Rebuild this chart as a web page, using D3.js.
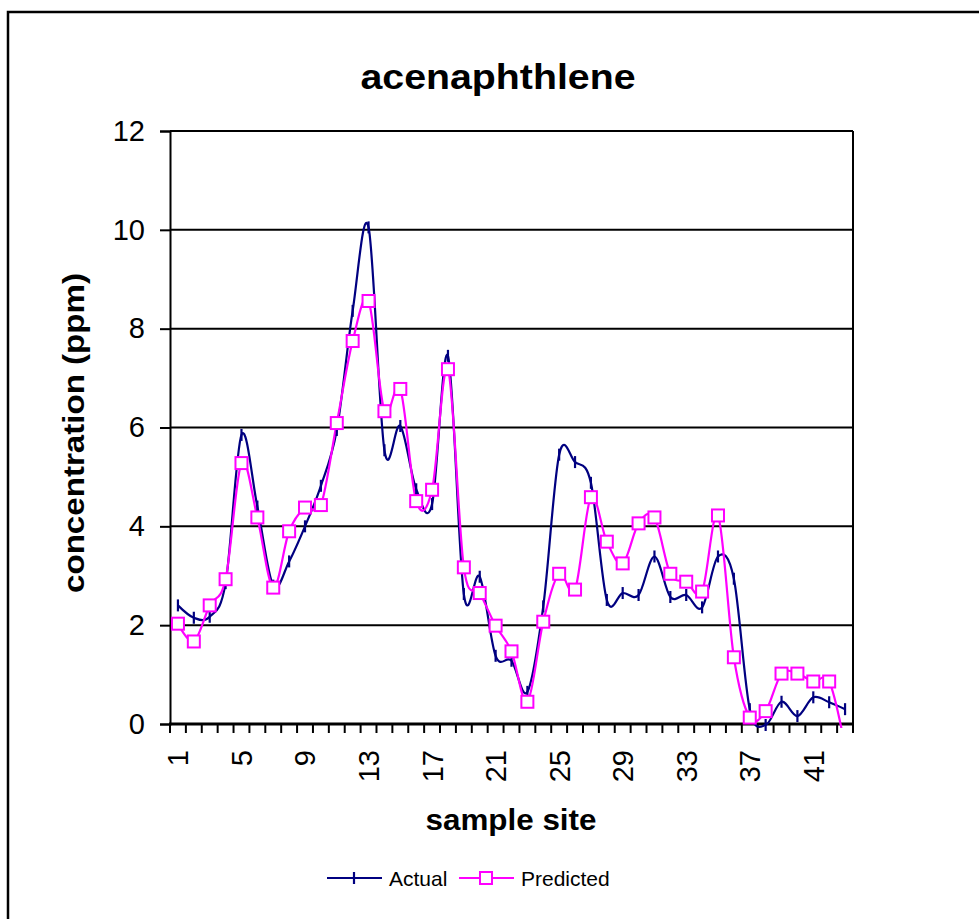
<!DOCTYPE html>
<html>
<head>
<meta charset="utf-8">
<script src="https://cdn.jsdelivr.net/npm/d3@7"></script>
<style>
  html, body { margin: 0; padding: 0; background: #fff; }
  svg { display: block; font-family: Arial, "Liberation Sans", sans-serif; }
</style>
</head>
<body>
<svg id="chart" width="979" height="919"></svg>
<script>
const sites = [1,2,3,4,5,6,7,8,9,10,11,12,13,14,15,16,17,18,19,20,21,22,23,24,25,26,27,28,29,30,31,32,33,34,35,36,37,38,39,40,41,42,43];
const tickSites = [1,5,9,13,17,21,25,29,33,37,41];
const yTicks = [0,2,4,6,8,10,12];
const actual = [2.40,2.15,2.17,2.85,5.85,4.40,2.80,3.29,4.00,4.82,5.95,8.36,10.05,5.54,6.03,4.75,4.45,7.45,2.63,2.98,1.38,1.28,0.65,2.38,5.45,5.30,4.88,2.51,2.65,2.61,3.39,2.57,2.61,2.36,3.39,2.94,0.30,-0.02,0.45,0.16,0.54,0.44,0.30];
const predicted = [2.03,1.67,2.40,2.93,5.28,4.18,2.76,3.90,4.38,4.43,6.09,7.75,8.56,6.33,6.78,4.51,4.74,7.18,3.17,2.65,1.99,1.47,0.45,2.07,3.04,2.72,4.59,3.69,3.25,4.06,4.18,3.04,2.88,2.68,4.22,1.35,0.13,0.26,1.02,1.02,0.86,0.86,-0.45];
const seriesNames = ["Actual","Predicted"];
const titleText = "acenaphthlene";
const xTitle = "sample site";
const yTitle = "concentration (ppm)";

const svg = d3.select("#chart");
const pL = 170, pR = 853, pT = 131, pB = 724;

// outer frame
svg.append("rect").attr("x",8).attr("y",12).attr("width",1000).attr("height",1000)
  .attr("fill","none").attr("stroke","#000").attr("stroke-width",2.5);

const x = d3.scaleBand().domain(sites).range([pL,pR]).padding(0);
const y = d3.scaleLinear().domain([0,12]).range([pB,pT]);
const cx = d => x(d) + x.bandwidth()/2;

// gridlines
svg.append("g").selectAll("line").data(yTicks.filter(v=>v>0)).join("line")
  .attr("x1",pL).attr("x2",pR).attr("y1",d=>y(d)).attr("y2",d=>y(d))
  .attr("stroke","#000").attr("stroke-width",2);
// right border of plot
svg.append("line").attr("x1",pR).attr("x2",pR).attr("y1",pT).attr("y2",pB)
  .attr("stroke","#000").attr("stroke-width",2);

// y axis
const yAxis = d3.axisLeft(y).tickValues(yTicks).tickSize(10).tickPadding(15).tickFormat(d3.format("d"));
const gy = svg.append("g").attr("transform",`translate(${pL},0)`).call(yAxis);
gy.select(".domain").attr("stroke-width",2);
gy.selectAll(".tick line").attr("stroke-width",2);
gy.selectAll("text").attr("font-size",29).attr("fill","#000").attr("font-family","Arial, 'Liberation Sans', sans-serif");

// x axis: ticks at category boundaries
const gx = svg.append("g");
gx.selectAll("line.tk").data(d3.range(sites.length+1)).join("line").attr("class","tk")
  .attr("x1",i=>pL + i*x.bandwidth()).attr("x2",i=>pL + i*x.bandwidth())
  .attr("y1",pB).attr("y2",pB+9).attr("stroke","#000").attr("stroke-width",2);
gx.append("line").attr("x1",pL-1).attr("x2",pR+1).attr("y1",pB).attr("y2",pB)
  .attr("stroke","#000").attr("stroke-width",3);
gx.selectAll("text").data(tickSites).join("text")
  .attr("transform",d=>`translate(${cx(d)},750) rotate(-90)`)
  .attr("text-anchor","end").attr("dy","0.36em")
  .attr("font-size",29).attr("fill","#000").text(d=>d);

// clip
svg.append("clipPath").attr("id","clip").append("rect")
  .attr("x",pL).attr("y",pT-20).attr("width",pR-pL).attr("height",pB-pT+24);

const line = d3.line().x((d,i)=>cx(sites[i])).y(d=>y(d)).curve(d3.curveCardinal.tension(0));

const plot = svg.append("g").attr("clip-path","url(#clip)");
plot.append("path").datum(actual).attr("d",line).attr("fill","none")
  .attr("stroke","#000080").attr("stroke-width",2.2);
plot.append("path").datum(predicted).attr("d",line).attr("fill","none")
  .attr("stroke","#FF00FF").attr("stroke-width",2.2);

// actual markers: short vertical bars
svg.append("g").selectAll("line").data(actual).join("line")
  .attr("x1",(d,i)=>cx(sites[i])).attr("x2",(d,i)=>cx(sites[i]))
  .attr("y1",d=>y(d)-6).attr("y2",d=>y(d)+6)
  .attr("stroke","#000080").attr("stroke-width",2.2);

// predicted markers: squares (only within range)
svg.append("g").selectAll("rect").data(predicted.map((v,i)=>({v,i})).filter(d=>d.v>=0)).join("rect")
  .attr("x",d=>cx(sites[d.i])-6).attr("y",d=>y(d.v)-6).attr("width",12).attr("height",12)
  .attr("fill","#fff").attr("stroke","#FF00FF").attr("stroke-width",2);

// titles
svg.append("text").attr("x",498).attr("y",89).attr("text-anchor","middle")
  .attr("font-size",35).attr("font-weight","bold").attr("textLength",275).attr("lengthAdjust","spacingAndGlyphs")
  .text(titleText);
svg.append("text").attr("x",511).attr("y",830).attr("text-anchor","middle")
  .attr("font-size",29).attr("font-weight","bold").attr("textLength",171).attr("lengthAdjust","spacingAndGlyphs")
  .text(xTitle);
svg.append("text").attr("transform","translate(84,433) rotate(-90)").attr("text-anchor","middle")
  .attr("font-size",29).attr("font-weight","bold").attr("textLength",320).attr("lengthAdjust","spacingAndGlyphs")
  .text(yTitle);

// legend
const lg = svg.append("g");
const ly = 878;
lg.append("line").attr("x1",327).attr("x2",382).attr("y1",ly).attr("y2",ly).attr("stroke","#000080").attr("stroke-width",2.2);
lg.append("line").attr("x1",354).attr("x2",354).attr("y1",ly-6).attr("y2",ly+6).attr("stroke","#000080").attr("stroke-width",2.2);
lg.append("text").attr("x",389).attr("y",886).attr("font-size",21).text(seriesNames[0]);
lg.append("line").attr("x1",459).attr("x2",514).attr("y1",ly).attr("y2",ly).attr("stroke","#FF00FF").attr("stroke-width",2.2);
lg.append("rect").attr("x",480).attr("y",ly-6).attr("width",12).attr("height",12).attr("fill","#fff").attr("stroke","#FF00FF").attr("stroke-width",2);
lg.append("text").attr("x",521).attr("y",886).attr("font-size",21).text(seriesNames[1]);
</script>
</body>
</html>
